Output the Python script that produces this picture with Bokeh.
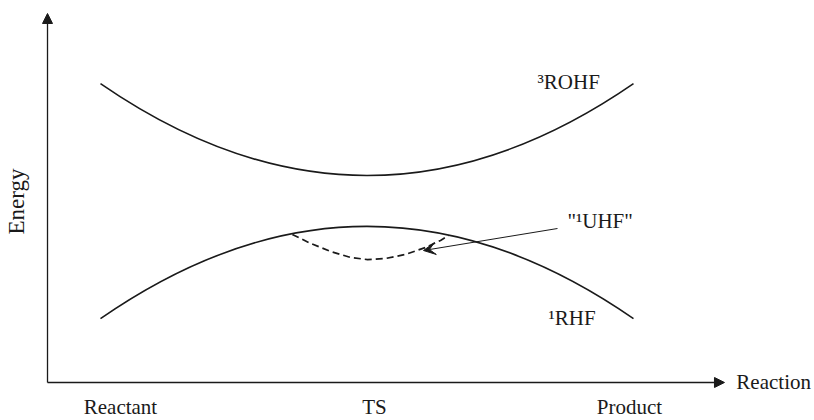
import math
from bokeh.plotting import figure
from bokeh.models import Range1d, Arrow, NormalHead, VeeHead, ColumnDataSource
from bokeh.core.properties import value
from bokeh.embed import file_html
from bokeh.resources import INLINE

# ---- data (reaction coordinate 0 = Reactant, 0.5 = TS, 1 = Product; energy in relative units) ----
stages = ["Reactant", "TS", "Product"]
stage_x = [0.0, 0.5, 1.0]
rohf_energy = [0.810, 0.561, 0.810]
rhf_energy = [0.173, 0.423, 0.173]
uhf_x = [0.360, 0.394, 0.432, 0.469, 0.501, 0.535, 0.572, 0.610, 0.638, 0.653]
uhf_energy = [0.401, 0.377, 0.355, 0.339, 0.333, 0.336, 0.347, 0.366, 0.385, 0.398]
state_labels = ["\u00b3ROHF", "\u00b9RHF", "\"\u00b9UHF\""]

# ---- layout constants ----
FONT = "Liberation Serif"
FS = "21px"
INK = "#1a1a1a"
tick_label_x = [0.0375, 0.514, 0.9925]
tick_label_y = -0.066
state_label_x = [0.8199, 0.8405, 0.876]
state_label_y = [0.814, 0.1748, 0.439]
axis_x0, axis_y0 = -0.0994, 0.0
axis_x1, axis_y1 = 1.1707, 1.0

p = figure(width=814, height=420, output_backend="svg", toolbar_location=None,
           x_range=Range1d(-0.1876, 1.3396), y_range=Range1d(-0.1030, 1.0352),
           x_axis_type=None, y_axis_type=None, min_border=0)
p.grid.visible = False
p.outline_line_color = None
p.background_fill_color = "white"

# axes as arrows
p.add_layout(Arrow(end=NormalHead(size=10, fill_color=INK, line_color=INK, line_width=1),
                   x_start=axis_x0, y_start=axis_y0, x_end=axis_x0, y_end=axis_y1,
                   line_color=INK, line_width=1.3))
p.add_layout(Arrow(end=NormalHead(size=10, fill_color=INK, line_color=INK, line_width=1),
                   x_start=axis_x0, y_start=axis_y0, x_end=axis_x1, y_end=axis_y0,
                   line_color=INK, line_width=1.3))

# curves: smooth quadratic through Reactant, TS, Product values
def quad(src_energy):
    y0, ym, y1 = src_energy
    return dict(x0=[stage_x[0]], y0=[y0], x1=[stage_x[2]], y1=[y1],
                cx=[stage_x[1]], cy=[2 * ym - (y0 + y1) / 2])

p.quadratic(source=ColumnDataSource(quad(rohf_energy)), x0="x0", y0="y0", x1="x1", y1="y1",
            cx="cx", cy="cy", line_color=INK, line_width=1.6)
p.quadratic(source=ColumnDataSource(quad(rhf_energy)), x0="x0", y0="y0", x1="x1", y1="y1",
            cx="cx", cy="cy", line_color=INK, line_width=1.6)
p.line(uhf_x, uhf_energy, line_color=INK, line_width=1.7, line_dash="7 4")

# pointer to "1UHF"
p.add_layout(Arrow(end=VeeHead(size=12, fill_color=INK, line_color=INK, line_width=1),
                   x_start=0.8574, y_start=0.4173, x_end=0.606, y_end=0.3577,
                   line_color=INK, line_width=1.0))

# texts
p.text(x=tick_label_x, y=[tick_label_y] * 3, text=stages, text_font=value(FONT),
       text_font_size=FS, text_align="center", text_baseline="middle", text_color=INK)
p.text(x=state_label_x, y=state_label_y, text=state_labels, text_font=value(FONT),
       text_font_size=FS, text_align="left", text_baseline="middle", text_color=INK)
p.text(x=[1.193], y=[0.0], text=["Reaction"], text_font=value(FONT), text_font_size=FS,
       text_align="left", text_baseline="middle", text_color=INK)
p.text(x=[-0.1576], y=[0.4905], text=["Energy"], angle=math.pi / 2, text_font=value(FONT),
       text_font_size="23px", text_align="center", text_baseline="middle", text_color=INK)

open("out.html", "w").write(file_html(p, INLINE))
